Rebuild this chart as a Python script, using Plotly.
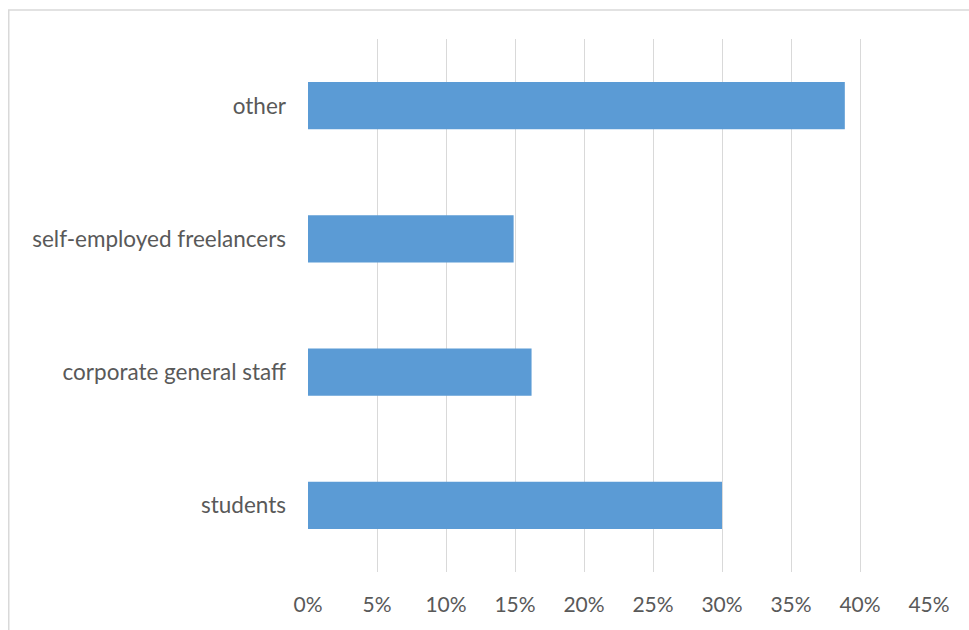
import plotly.graph_objects as go

# Share of respondents by occupation
categories = ["students", "corporate general staff", "self-employed freelancers", "other"]
shares = [0.30, 0.162, 0.149, 0.389]

tick_values = [0, 0.05, 0.10, 0.15, 0.20, 0.25, 0.30, 0.35, 0.40, 0.45]
tick_labels = ["0%", "5%", "10%", "15%", "20%", "25%", "30%", "35%", "40%", "45%"]

W, H = 969, 630
ML, MR, MT, MB = 307.5, 40, 39, 58
plot_w = W - ML - MR
plot_h = H - MT - MB

fig = go.Figure(
    go.Bar(
        x=shares,
        y=categories,
        orientation="h",
        width=0.353,
        marker=dict(color="#5B9BD5", line=dict(width=0)),
        hoverinfo="skip",
    )
)

# light frame around the whole chart area
fig.add_shape(
    type="rect",
    xref="paper", yref="paper",
    x0=(8 - ML) / plot_w, x1=1.2,
    y0=-0.3, y1=(H - MB - 10) / plot_h,
    line=dict(color="#d9d9d9", width=1.5),
    fillcolor="rgba(0,0,0,0)",
    layer="below",
)

font_family = "Lato, 'Open Sans', sans-serif"

fig.update_layout(
    width=W, height=H,
    margin=dict(l=ML, r=MR, t=MT, b=MB, pad=0),
    paper_bgcolor="white",
    plot_bgcolor="white",
    showlegend=False,
    font=dict(family=font_family, size=19, color="#595959"),
    xaxis=dict(
        range=[0, 0.45],
        tickvals=tick_values,
        ticktext=tick_labels,
        tickfont=dict(size=21, color="#595959"),
        showgrid=True,
        gridcolor="#d9d9d9",
        gridwidth=1,
        zeroline=False,
        showline=False,
        ticks="",
        ticklabelstandoff=18,
        fixedrange=True,
    ),
    yaxis=dict(
        categoryorder="array",
        categoryarray=categories,
        tickfont=dict(size=22.5, color="#595959"),
        showgrid=False,
        zeroline=False,
        showline=False,
        ticks="",
        ticklabelstandoff=21,
        fixedrange=True,
    ),
)

fig.write_html("out.html")
